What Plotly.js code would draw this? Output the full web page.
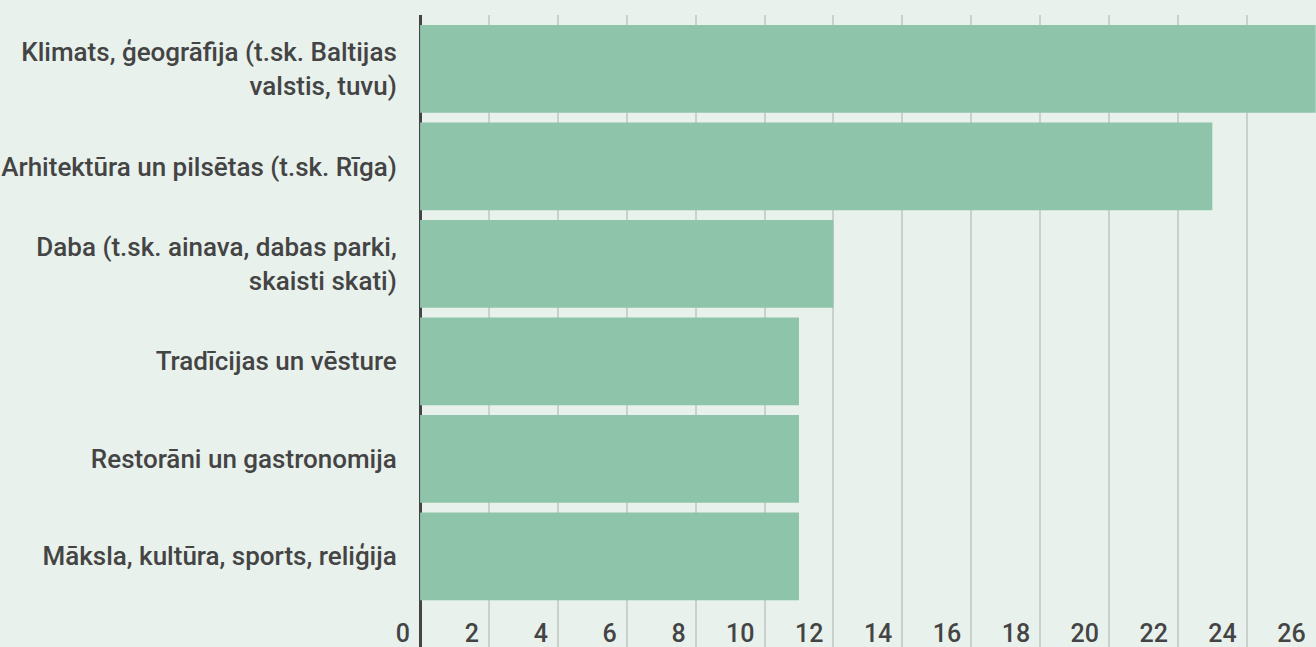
<!DOCTYPE html>
<html>
<head>
<meta charset="utf-8">
<script src="https://cdn.plot.ly/plotly-3.0.1.min.js"></script>
<style>
  html, body { margin: 0; padding: 0; background: #e8f1ec; }
  #chart { width: 1316px; height: 647px; }
</style>
</head>
<body>
<div id="chart"></div>
<script>
// categories, top to bottom
var categories = [
  'Klimats, ģeogrāfija (t.sk. Baltijas<br>valstis, tuvu)',
  'Arhitektūra un pilsētas (t.sk. Rīga)',
  'Daba (t.sk. ainava, dabas parki,<br>skaisti skati)',
  'Tradīcijas un vēsture',
  'Restorāni un gastronomija',
  'Māksla, kultūra, sports, reliģija'
];
var counts = [26, 23, 12, 11, 11, 11];
var tickValues = [0, 2, 4, 6, 8, 10, 12, 14, 16, 18, 20, 22, 24, 26];

var trace = {
  type: 'bar',
  orientation: 'h',
  y: categories,
  x: counts,
  marker: { color: '#8ec4a9' },
  hoverinfo: 'x+y'
};

var layout = {
  width: 1316,
  height: 647,
  margin: { l: 418, r: 0, t: 15, b: 0 },
  paper_bgcolor: '#e8f1ec',
  plot_bgcolor: '#e8f1ec',
  bargap: 0.1,
  showlegend: false,
  font: { family: 'Roboto, sans-serif', size: 26, weight: 500, color: '#444' },
  xaxis: {
    range: [-0.06, 26.01],
    tickvals: tickValues,
    ticktext: tickValues.map(String),
    tickfont: { size: 25, weight: 500, color: '#444' },
    showgrid: true,
    gridcolor: '#c9d1cc',
    gridwidth: 2,
    zeroline: true,
    zerolinecolor: '#444',
    zerolinewidth: 3,
    showline: false,
    ticks: '',
    ticklabelposition: 'outside left',
    ticklabelstandoff: -31,
    ticklabelshift: -10,
    automargin: false,
    fixedrange: true
  },
  yaxis: {
    type: 'category',
    categoryorder: 'array',
    categoryarray: categories,
    range: [5.93, -0.553],
    tickfont: { size: 26, weight: 500, color: '#444' },
    showgrid: false,
    zeroline: false,
    showline: false,
    ticks: 'outside',
    ticklen: 15,
    tickcolor: 'rgba(0,0,0,0)',
    automargin: false,
    fixedrange: true
  }
};

Plotly.newPlot('chart', [trace], layout, { displayModeBar: false, staticPlot: true });
</script>
</body>
</html>
